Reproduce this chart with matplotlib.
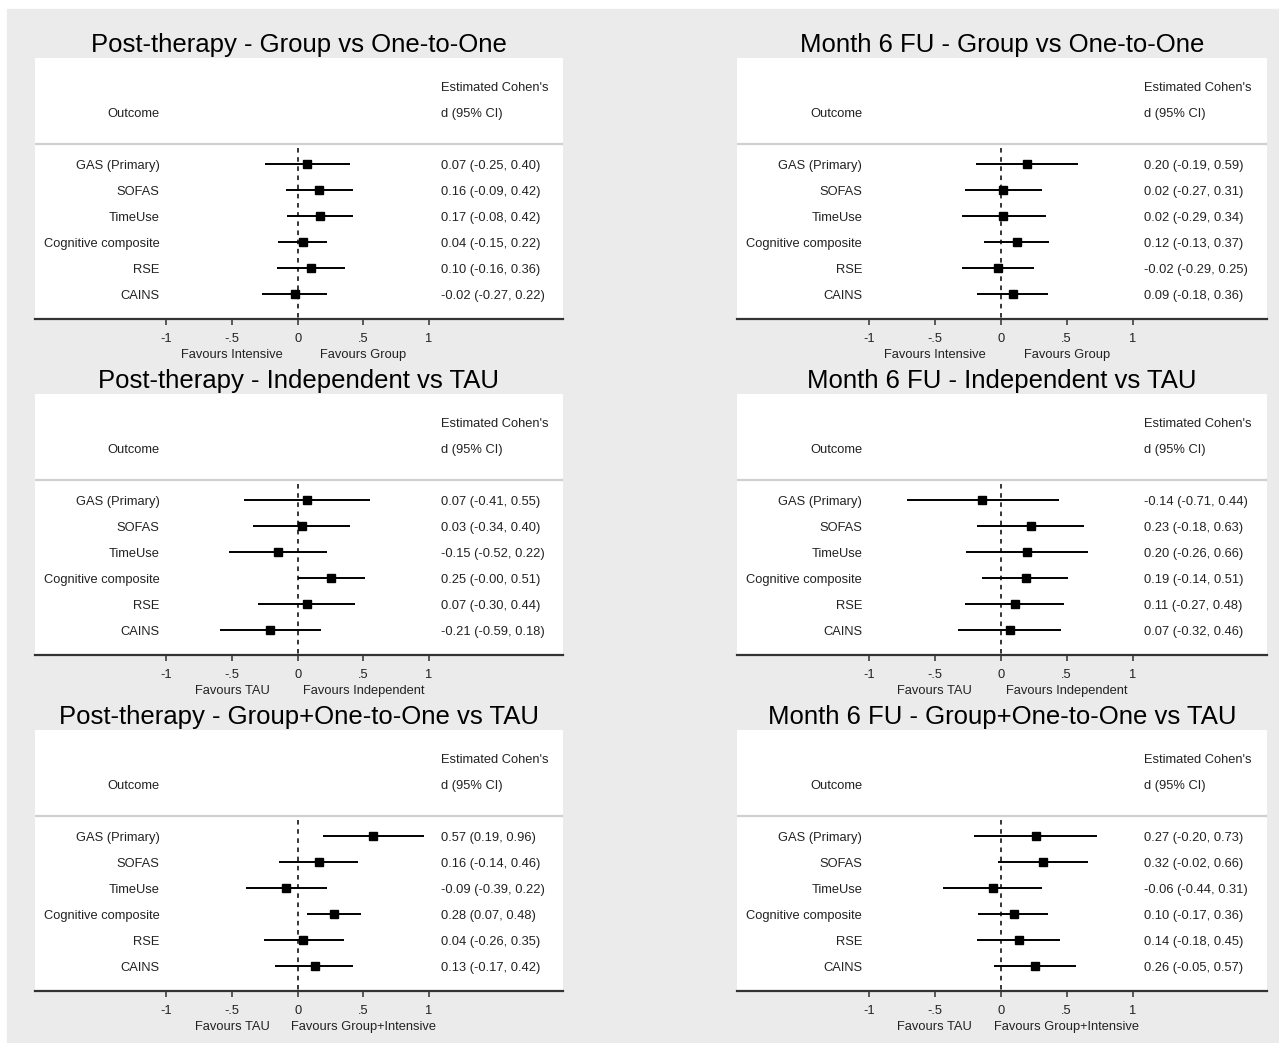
import numpy as np
import matplotlib.pyplot as plt
from matplotlib.patches import Rectangle

plt.rcParams['font.family'] = ['Liberation Sans', 'DejaVu Sans']

# Outcomes (same in every panel)
outcomes = ['GAS (Primary)', 'SOFAS', 'TimeUse', 'Cognitive composite', 'RSE', 'CAINS']

# Post-therapy - Group vs One-to-One
post_gvo_est = [0.07, 0.16, 0.17, 0.04, 0.10, -0.02]
post_gvo_lo = [-0.25, -0.09, -0.08, -0.15, -0.16, -0.27]
post_gvo_hi = [0.40, 0.42, 0.42, 0.22, 0.36, 0.22]

# Month 6 FU - Group vs One-to-One
m6_gvo_est = [0.20, 0.02, 0.02, 0.12, -0.02, 0.09]
m6_gvo_lo = [-0.19, -0.27, -0.29, -0.13, -0.29, -0.18]
m6_gvo_hi = [0.59, 0.31, 0.34, 0.37, 0.25, 0.36]

# Post-therapy - Independent vs TAU
post_ind_est = [0.07, 0.03, -0.15, 0.25, 0.07, -0.21]
post_ind_lo = [-0.41, -0.34, -0.52, -0.00, -0.30, -0.59]
post_ind_hi = [0.55, 0.40, 0.22, 0.51, 0.44, 0.18]

# Month 6 FU - Independent vs TAU
m6_ind_est = [-0.14, 0.23, 0.20, 0.19, 0.11, 0.07]
m6_ind_lo = [-0.71, -0.18, -0.26, -0.14, -0.27, -0.32]
m6_ind_hi = [0.44, 0.63, 0.66, 0.51, 0.48, 0.46]

# Post-therapy - Group+One-to-One vs TAU
post_gpo_est = [0.57, 0.16, -0.09, 0.28, 0.04, 0.13]
post_gpo_lo = [0.19, -0.14, -0.39, 0.07, -0.26, -0.17]
post_gpo_hi = [0.96, 0.46, 0.22, 0.48, 0.35, 0.42]

# Month 6 FU - Group+One-to-One vs TAU
m6_gpo_est = [0.27, 0.32, -0.06, 0.10, 0.14, 0.26]
m6_gpo_lo = [-0.20, -0.02, -0.44, -0.17, -0.18, -0.05]
m6_gpo_hi = [0.73, 0.66, 0.31, 0.36, 0.45, 0.57]

titles = ['Post-therapy - Group vs One-to-One', 'Month 6 FU - Group vs One-to-One',
          'Post-therapy - Independent vs TAU', 'Month 6 FU - Independent vs TAU',
          'Post-therapy - Group+One-to-One vs TAU', 'Month 6 FU - Group+One-to-One vs TAU']
favours_left = ['Favours Intensive', 'Favours Intensive', 'Favours TAU', 'Favours TAU',
                'Favours TAU', 'Favours TAU']
favours_right = ['Favours Group', 'Favours Group', 'Favours Independent', 'Favours Independent',
                 'Favours Group+Intensive', 'Favours Group+Intensive']

ests = [post_gvo_est, m6_gvo_est, post_ind_est, m6_ind_est, post_gpo_est, m6_gpo_est]
los = [post_gvo_lo, m6_gvo_lo, post_ind_lo, m6_ind_lo, post_gpo_lo, m6_gpo_lo]
his = [post_gvo_hi, m6_gvo_hi, post_ind_hi, m6_ind_hi, post_gpo_hi, m6_gpo_hi]

W, H = 1279, 1043
fig = plt.figure(figsize=(W / 100, H / 100), dpi=100)
bg = Rectangle((7 / W, 0), 1 - 7 / W, 1 - 9 / H, transform=fig.transFigure,
               color='#ebebeb', zorder=-10)
fig.add_artist(bg)

col_x = [(35, 563), (737, 1267)]
row_top = [58, 394, 730]
panel_h = 261
ys = np.arange(1, len(outcomes) + 1)
fs = 9.3
tc = '#222222'
va = 'center_baseline'

for i in range(6):
    r, c = divmod(i, 2)
    x0, x1 = col_x[c]
    top = row_top[r]
    ax = fig.add_axes([x0 / W, 1 - (top + panel_h) / H, (x1 - x0) / W, panel_h / H])
    ax.set_facecolor('white')
    ax.set_xlim(-2.0, 2.02)
    ax.set_ylim(6.96, -3.08)

    ax.plot([0, 0], [0.385, 6.96], ls=(0, (3, 3)), color='black', lw=1.1, zorder=2)
    ax.hlines(ys, los[i], his[i], color='black', lw=1.4, zorder=3)
    ax.plot(ests[i], ys, 's', color='black', ms=6.2, zorder=4)
    ax.axhline(0.23, color='#d0d0d0', lw=1.6)

    ax.text(-1.05, -1, 'Outcome', ha='right', va=va, fontsize=fs, color=tc)
    ax.text(1.09, -2, "Estimated Cohen's", ha='left', va=va, fontsize=fs, color=tc)
    ax.text(1.09, -1, 'd (95% CI)', ha='left', va=va, fontsize=fs, color=tc)
    for y, name, e, lo, hi in zip(ys, outcomes, ests[i], los[i], his[i]):
        ax.text(-1.05, y, name, ha='right', va=va, fontsize=fs, color=tc)
        ax.text(1.09, y, f'{e:.2f} ({lo:.2f}, {hi:.2f})', ha='left', va=va,
                fontsize=fs, color=tc)

    ax.text(-0.5, 8.3, favours_left[i], ha='center', va=va, fontsize=fs,
            color=tc, clip_on=False)
    ax.text(0.5, 8.3, favours_right[i], ha='center', va=va, fontsize=fs,
            color=tc, clip_on=False)

    ax.set_xticks([-1, -0.5, 0, 0.5, 1])
    ax.set_xticklabels(['-1', '-.5', '0', '.5', '1'])
    ax.set_yticks([])
    ax.tick_params(axis='x', length=4.5, width=1.1, color='#333333', labelcolor=tc,
                   labelsize=fs, pad=5.8)
    for s in ['top', 'left', 'right']:
        ax.spines[s].set_visible(False)
    ax.spines['bottom'].set_color('#333333')
    ax.spines['bottom'].set_linewidth(1.6)
    ax.set_title(titles[i], fontsize=18.5, color='black', pad=4.3)

fig.savefig('out.png', dpi=100)
